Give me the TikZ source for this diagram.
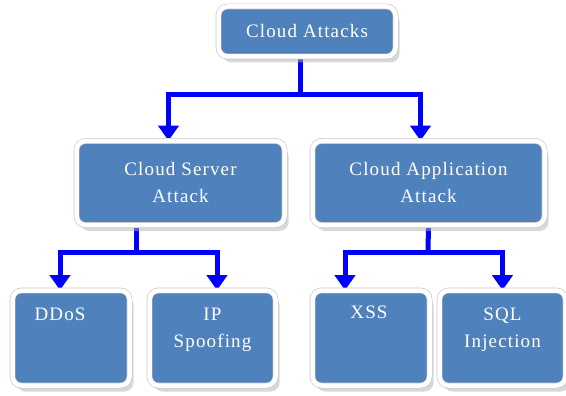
\documentclass[tikz,border=0pt]{standalone}
\usepackage{fontspec}
\newfontfamily\boxfont[LetterSpace=6]{Liberation Serif}
\usepackage{tikz}
\usetikzlibrary{arrows.meta,positioning,shadows,backgrounds}
\definecolor{boxblue}{HTML}{4F81BD}
\definecolor{linkblue}{RGB}{0,0,255}

\begin{document}
\begin{tikzpicture}[x=1pt, y=-1pt,
    attack/.style={rectangle, fill=boxblue, draw=gray!45, double=white,
        double distance=4.5pt, line width=0.6pt, rounded corners=9pt,
        text=white, align=center, inner sep=0pt,
        font=\boxfont\fontsize{19}{27}\selectfont,
        drop shadow={shadow xshift=4pt, shadow yshift=-6pt, fill=black!30}},
    leaftext/.style={anchor=north, text=white, align=center,
        font=\boxfont\fontsize{19}{27}\selectfont},
    link/.style={draw=linkblue, line width=5pt},
    >={Triangle[width=20pt, length=15pt]}
]
\useasboundingbox (0,0) rectangle (566,396);

% nodes
\node[attack, minimum width=177pt, minimum height=50pt] (top) at (307,31.5) {Cloud Attacks};
\node[attack, minimum width=208pt, minimum height=84pt] (srv) at (180.5,183) {Cloud Server\\Attack};
\node[attack, minimum width=232pt, minimum height=84pt] (app) at (428.5,183) {Cloud Application\\Attack};
\node[attack, minimum width=117pt, minimum height=95pt,
    label={[leaftext, xshift=-11pt, yshift=-14pt]north:DDoS}] (ddos) at (71,338) {};
\node[attack, minimum width=126pt, minimum height=95pt,
    label={[leaftext, yshift=-14pt]north:IP\\Spoofing}] (ipsp) at (212.5,338) {};
\node[attack, minimum width=117pt, minimum height=95pt,
    label={[leaftext, xshift=-2pt, yshift=-12pt]north:XSS}] (xss) at (371,338) {};
\node[attack, minimum width=126pt, minimum height=95pt,
    label={[leaftext, yshift=-14pt]north:SQL\\Injection}] (sql) at (502.5,338) {};

% connectors
\coordinate (j1) at (300,95);
\coordinate (j2) at (136,252);
\coordinate (j3) at (428,252);
\begin{scope}[on background layer]
\draw[link] ([xshift=-7pt]top.south) -- (j1);
\draw[link,->] (j1) -| ([xshift=-12pt]srv.north);
\draw[link,->] (j1) -| ([xshift=-8pt]app.north);
\draw[link] ([xshift=-44.5pt]srv.south) -- (j2);
\draw[link,->] (j2) -| ([xshift=-11pt]ddos.north);
\draw[link,->] (j2) -| ([xshift=4.5pt]ipsp.north);
\draw[link] (app.south) -- (j3);
\draw[link,->] (j3) -| ([xshift=-26pt]xss.north);
\draw[link,->] (j3) -| (sql.north);
\end{scope}
\end{tikzpicture}
\end{document}
